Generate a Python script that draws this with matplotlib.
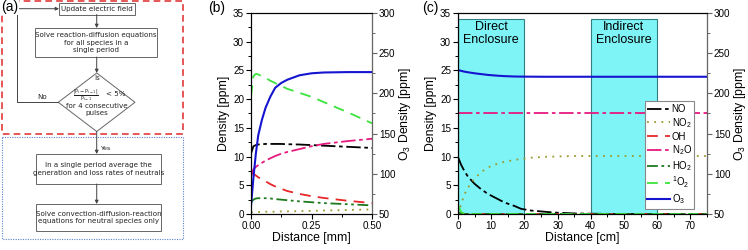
import numpy as np
import matplotlib
matplotlib.use("Agg")
import matplotlib.pyplot as plt
from matplotlib.patches import Rectangle, Polygon
from matplotlib.ticker import MultipleLocator

plt.rcParams['font.family'] = ['Liberation Sans', 'DejaVu Sans']
plt.rcParams['mathtext.default'] = 'regular'

# --- Panel (b) data: distance in mm ---
x_b = [0, 0.01, 0.02, 0.03, 0.045, 0.06, 0.08, 0.1, 0.125, 0.15, 0.2, 0.25, 0.3, 0.4, 0.5]
no_b = [10.5, 11.8, 12.0, 12.1, 12.15, 12.2, 12.2, 12.2, 12.2, 12.15, 12.1, 12.0, 11.9, 11.7, 11.5]
no2_b = [0.3, 0.3, 0.35, 0.35, 0.35, 0.4, 0.4, 0.4, 0.45, 0.45, 0.5, 0.55, 0.6, 0.7, 0.8]
oh_b = [7.3, 7.0, 6.7, 6.4, 6.0, 5.7, 5.2, 4.8, 4.4, 4.0, 3.5, 3.1, 2.8, 2.3, 1.9]
n2o_b = [6.5, 7.8, 8.2, 8.5, 8.9, 9.3, 9.7, 10.1, 10.5, 10.8, 11.3, 11.8, 12.2, 12.7, 13.1]
ho2_b = [2.0, 2.5, 2.7, 2.75, 2.75, 2.75, 2.7, 2.6, 2.5, 2.4, 2.2, 2.05, 1.9, 1.7, 1.5]
so2_b = [20.5, 24.0, 24.4, 24.3, 24.0, 23.7, 23.2, 22.8, 22.3, 21.8, 21.1, 20.4, 19.5, 17.7, 15.8]
o3_b = [60, 95, 125, 148, 167, 182, 196, 207, 213, 217, 222.5, 225, 226, 226.5, 226.5]

# --- Panel (c) data: distance in cm ---
x_c = [0, 1, 2, 3, 5, 7, 9, 12, 14, 17, 19, 22, 26, 29, 35, 40, 50, 60, 75]
no_c = [9.9, 8.5, 7.4, 6.5, 5.25, 4.3, 3.5, 2.6, 2.0, 1.4, 0.9, 0.6, 0.4, 0.25, 0.1, 0.05, 0, 0, 0]
no2_c = [0, 1.8, 3.5, 4.6, 6.2, 7.3, 8.1, 8.8, 9.1, 9.4, 9.6, 9.8, 9.95, 10.0, 10.1, 10.1, 10.1, 10.1, 10.1]
oh_c = [0.3, 0.1, 0, 0, 0, 0, 0, 0, 0, 0, 0, 0, 0, 0, 0, 0, 0, 0, 0]
n2o_c = [17.5] * 19
ho2_c = [0.2, 0.05, 0, 0, 0, 0, 0, 0, 0, 0, 0, 0, 0, 0, 0, 0, 0, 0, 0]
so2_c = [1.5, 0.3, 0, 0, 0, 0, 0, 0, 0, 0, 0, 0, 0, 0, 0, 0, 0, 0, 0]
o3_c = [229, 228, 227, 226.3, 225, 224, 223, 222, 221.5, 221, 220.9, 220.8, 220.7, 220.7, 220.7, 220.7, 220.7, 220.7, 220.7]

enclosures = [(0, 20, "Direct\nEnclosure"), (40, 60, "Indirect\nEnclosure")]
enc_top = 34

species = ["NO", "NO$_2$", "OH", "N$_2$O", "HO$_2$", "$^1$O$_2$"]
colors = ["black", "#9a9a30", "#e8262a", "#e6197f", "#1f7a1f", "#3be33b"]
styles = [(0, (8, 2, 2, 2)), (0, (1, 3)), (0, (6, 4)), (0, (8, 2, 2, 2)),
          (0, (6, 2, 1.5, 2, 1.5, 2)), (0, (6, 4))]
o3_color = "#1515d0"

fig = plt.figure(figsize=(7.48, 2.5), dpi=100)

TICK = 7.1
LAB = 8.8


def style_axes(ax, ax2):
    for a in (ax, ax2):
        a.tick_params(which='major', direction='out', length=3.5, width=0.8, labelsize=TICK, pad=1.5)
        a.tick_params(which='minor', direction='out', length=2, width=0.7)
    ax.tick_params(axis='y', right=False, which='both')
    ax2.spines['right'].set_color('#666666')
    ax2.tick_params(axis='y', colors='#666666', labelcolor='black', which='both')
    ax.set_ylim(0, 35)
    ax.yaxis.set_major_locator(MultipleLocator(5))
    ax.yaxis.set_minor_locator(MultipleLocator(2.5))
    ax2.set_ylim(50, 300)
    ax2.yaxis.set_major_locator(MultipleLocator(50))
    ax2.yaxis.set_minor_locator(MultipleLocator(25))
    ax.set_ylabel("Density [ppm]", fontsize=LAB, labelpad=2)
    ax2.set_ylabel("O$_3$ Density [ppm]", fontsize=LAB, labelpad=1)


# --- (b) ---
axb = fig.add_axes([251 / 748, 1 - 214 / 250, 121 / 748, 201 / 250])
axb2 = axb.twinx()
ys_b = [no_b, no2_b, oh_b, n2o_b, ho2_b, so2_b]
for y, c, ls in zip(ys_b, colors, styles):
    axb.plot(x_b, y, color=c, ls=ls, lw=1.3)
axb2.plot(x_b, o3_b, color=o3_color, lw=1.5)
axb.set_xlim(0, 0.5)
axb.xaxis.set_major_locator(MultipleLocator(0.25))
axb.xaxis.set_minor_locator(MultipleLocator(0.125))
axb.xaxis.set_major_formatter(plt.FormatStrFormatter('%.2f'))
axb.set_xlabel("Distance [mm]", fontsize=LAB, labelpad=1)
style_axes(axb, axb2)
fig.text(208 / 748, 1 - 8 / 250, "(b)", fontsize=10, va='center')

# --- (c) ---
axc = fig.add_axes([458 / 748, 1 - 214 / 250, 249 / 748, 201 / 250])
axc2 = axc.twinx()
for x0, x1, label in enclosures:
    axc.add_patch(Rectangle((x0, 0), x1 - x0, enc_top, facecolor='#7ef4f7',
                            edgecolor='#2f7f80', lw=0.8, zorder=0))
    axc.text((x0 + x1) / 2, 31.4, label, ha='center', va='center', fontsize=9, linespacing=1.15)
ys_c = [no_c, no2_c, oh_c, n2o_c, ho2_c, so2_c]
handles = []
for y, c, ls, name in zip(ys_c, colors, styles, species):
    h, = axc.plot(x_c, y, color=c, ls=ls, lw=1.3, label=name)
    handles.append(h)
h, = axc2.plot(x_c, o3_c, color=o3_color, lw=1.5, label="O$_3$")
handles.append(h)
axc.set_xlim(0, 75)
axc.xaxis.set_major_locator(MultipleLocator(10))
axc.xaxis.set_minor_locator(MultipleLocator(5))
axc.set_xlabel("Distance [cm]", fontsize=LAB, labelpad=1)
style_axes(axc, axc2)
leg = axc2.legend(handles=handles, loc='lower right', bbox_to_anchor=(0.948, 0.027),
                  fontsize=6.9, frameon=True, fancybox=False, framealpha=1,
                  edgecolor='#888888', handlelength=2.4, handletextpad=0.15,
                  labelspacing=0.2, borderpad=0.25, borderaxespad=0)
leg.get_frame().set_linewidth(0.8)
fig.text(422 / 748, 1 - 8 / 250, "(c)", fontsize=10, va='center')

# --- (a) flowchart ---
axa = fig.add_axes([0, 0, 190 / 748, 1])
axa.set_xlim(0, 190)
axa.set_ylim(250, 0)
axa.axis('off')

axa.add_patch(Rectangle((2, 1), 181, 133, fill=False, ec='#e03a3a', lw=1.2, ls=(0, (4, 2.5))))
axa.add_patch(Rectangle((2, 136.5), 181, 102.5, fill=False, ec='#5a82cc', lw=0.8, ls=(0, (1, 1.2))))

FS = 5.1
box_ec = '#666666'


def box(x0, y0, x1, y1, text):
    axa.add_patch(Rectangle((x0, y0), x1 - x0, y1 - y0, fill=False, ec=box_ec, lw=0.7))
    axa.text((x0 + x1) / 2, (y0 + y1) / 2, text, ha='center', va='center', fontsize=FS,
             family='DejaVu Sans', linespacing=1.3, color='#222222')


def arrow(x0, y0, x1, y1):
    axa.annotate('', xy=(x1, y1), xytext=(x0, y0),
                 arrowprops=dict(arrowstyle='-|>', color='#444444', lw=0.7,
                                 mutation_scale=5, shrinkA=0, shrinkB=0))


def label(x, y, text, fs=FS, ha='center'):
    axa.text(x, y, text, ha=ha, va='center', fontsize=fs, family='DejaVu Sans', color='#222222')


box(59, 3, 135, 14.5, "Update electric field")
box(35, 28, 157, 57, "Solve reaction-diffusion equations\nfor all species in a\nsingle period")
axa.add_patch(Polygon([(96.7, 73), (135, 102.3), (96.7, 131.5), (58.3, 102.3)],
                      closed=True, fill=False, ec=box_ec, lw=0.7))
label(96.7, 78, "Is")
label(85.5, 95.5, r"$\frac{|P_i - P_{i-1}|}{P_{i-1}}$", fs=5.0)
label(106, 94.5, "< 5%", ha='left')
label(96.7, 106, "for 4 consecutive")
label(96.7, 113.5, "pulses")
box(36, 154, 161, 184, "In a single period average the\ngeneration and loss rates of neutrals")
box(36, 204, 161, 231, "Solve convection-diffusion-reaction\nequations for neutral species only")

arrow(96.7, 14.5, 96.7, 28)
arrow(96.7, 57, 96.7, 73)
arrow(96.7, 131.5, 96.7, 154)
arrow(96.7, 184, 96.7, 204)
axa.plot([58.3, 16.7, 16.7], [102.3, 102.3, 8.7], color='#444444', lw=0.7)
arrow(16.7, 8.7, 59, 8.7)
label(41.7, 97, "No")
label(100, 148, "Yes", fs=FS - 0.5, ha='left')
axa.text(1, 7, "(a)", fontsize=10, va='center', ha='left',
         bbox=dict(facecolor='white', edgecolor='none', pad=0.5))

fig.savefig("out.png", dpi=100)
